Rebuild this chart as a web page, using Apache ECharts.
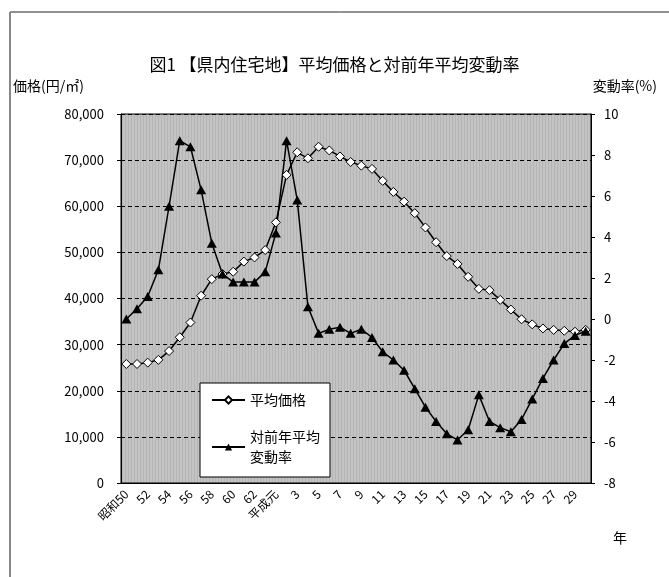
<!DOCTYPE html>
<html>
<head>
<meta charset="utf-8">
<title>県内住宅地 平均価格と対前年平均変動率</title>
<script src="https://cdn.jsdelivr.net/npm/echarts@6/dist/echarts.min.js"></script>
<style>
  html, body { margin: 0; padding: 0; background: #fff; }
  #chart { width: 669px; height: 577px; }
</style>
</head>
<body>
<div id="chart"></div>
<script>
// 年（昭和50年〜平成30年）
const years = [
  "昭和50", "51", "52", "53", "54", "55", "56", "57", "58", "59",
  "60", "61", "62", "63", "平成元", "2", "3", "4", "5", "6",
  "7", "8", "9", "10", "11", "12", "13", "14", "15", "16",
  "17", "18", "19", "20", "21", "22", "23", "24", "25", "26",
  "27", "28", "29", "30"
];

// 平均価格（円/㎡）
const avgPrice = [
  25800, 25800, 26100, 26700, 28600, 31600, 34800, 40600, 44200, 45300,
  45800, 48000, 48900, 50500, 56500, 66800, 71700, 70400, 72900, 72100,
  70800, 69600, 68800, 68100, 65500, 63100, 61000, 58500, 55400, 52200,
  49200, 47500, 44700, 42100, 41800, 39700, 37600, 35500, 34400, 33500,
  33200, 33000, 32800, 33200
];

// 対前年平均変動率（%）
const changeRate = [
  0.0, 0.5, 1.1, 2.4, 5.5, 8.7, 8.4, 6.3, 3.7, 2.2,
  1.8, 1.8, 1.8, 2.3, 4.2, 8.7, 5.8, 0.6, -0.7, -0.5,
  -0.4, -0.7, -0.5, -0.9, -1.6, -2.0, -2.5, -3.4, -4.3, -5.0,
  -5.6, -5.9, -5.4, -3.7, -5.0, -5.3, -5.5, -4.9, -3.9, -2.9,
  -2.0, -1.2, -0.8, -0.6
];

const FONT = "'Noto Sans CJK JP', 'Noto Sans', sans-serif";

// plot background: gray with fine vertical stripes
const stripe = document.createElement("canvas");
stripe.width = 3;
stripe.height = 1;
const sctx = stripe.getContext("2d");
sctx.fillStyle = "#c3c3c3";
sctx.fillRect(0, 0, 3, 1);
sctx.fillStyle = "#b5b5b5";
sctx.fillRect(2, 0, 1, 1);

const chart = echarts.init(document.getElementById("chart"), null, { renderer: "canvas" });

chart.setOption({
  animation: false,
  textStyle: { fontFamily: FONT, color: "#000" },
  title: {
    text: "図1 【県内住宅地】平均価格と対前年平均変動率",
    left: "center",
    top: 51,
    textStyle: { fontFamily: FONT, fontSize: 17, fontWeight: "normal", color: "#000" }
  },
  grid: {
    left: 121,
    right: 78,
    top: 114,
    bottom: 94,
    show: true,
    backgroundColor: { image: stripe, repeat: "repeat" },
    borderColor: "#000",
    borderWidth: 1
  },
  legend: {
    orient: "vertical",
    left: 200,
    top: 383,
    padding: [7, 10, 0, 11],
    itemGap: 7,
    itemWidth: 33,
    itemHeight: 9,
    backgroundColor: "#fff",
    borderColor: "#000",
    borderWidth: 1,
    textStyle: { fontFamily: FONT, fontSize: 14, lineHeight: 20, color: "#000" },
    data: [
      { name: "平均価格" },
      { name: "対前年平均\n変動率", textStyle: { padding: [20, 0, 0, 0] } }
    ]
  },
  xAxis: {
    type: "category",
    data: years,
    boundaryGap: true,
    axisLine: { lineStyle: { color: "#000", width: 1 } },
    axisTick: { interval: 0, inside: true, length: 3, lineStyle: { color: "#000" } },
    axisLabel: {
      interval: 1,
      rotate: 45,
      margin: 9,
      fontSize: 12,
      fontFamily: FONT,
      color: "#000"
    },
    splitLine: { show: false }
  },
  yAxis: [
    {
      type: "value",
      min: 0,
      max: 80000,
      interval: 10000,
      axisLine: { show: true, lineStyle: { color: "#000" } },
      axisTick: { show: true, length: 4, lineStyle: { color: "#000" } },
      axisLabel: {
        margin: 17,
        fontSize: 13,
        fontFamily: FONT,
        color: "#000",
        formatter: (v) => v.toLocaleString("en-US")
      },
      splitLine: { show: true, lineStyle: { color: "#000", type: [4, 3], width: 1 } }
    },
    {
      type: "value",
      min: -8,
      max: 10,
      interval: 2,
      axisLine: { show: true, lineStyle: { color: "#000" } },
      axisTick: { show: true, length: 4, lineStyle: { color: "#000" } },
      axisLabel: { margin: 13, fontSize: 13, fontFamily: FONT, color: "#000" },
      splitLine: { show: false }
    }
  ],
  graphic: [
    // frame lines
    { type: "line", shape: { x1: 10, y1: 12, x2: 669, y2: 12 }, style: { stroke: "#222", lineWidth: 1 } },
    { type: "line", shape: { x1: 10, y1: 12, x2: 10, y2: 577 }, style: { stroke: "#888", lineWidth: 2 } },
    // axis unit labels
    { type: "text", left: 13, top: 79, style: { text: "価格(円/㎡)", font: "14px " + FONT, fill: "#000" } },
    { type: "text", right: 12, top: 79, style: { text: "変動率(%)", font: "14px " + FONT, fill: "#000" } },
    { type: "text", left: 613, top: 531, style: { text: "年", font: "14px " + FONT, fill: "#000" } }
  ],
  series: [
    {
      name: "平均価格",
      type: "line",
      yAxisIndex: 0,
      data: avgPrice,
      symbol: "diamond",
      symbolSize: 9,
      showAllSymbol: true,
      lineStyle: { color: "#000", width: 1.5 },
      itemStyle: { color: "#fff", borderColor: "#000", borderWidth: 1 }
    },
    {
      name: "対前年平均\n変動率",
      type: "line",
      yAxisIndex: 1,
      data: changeRate,
      symbol: "triangle",
      symbolSize: [10, 9],
      showAllSymbol: true,
      lineStyle: { color: "#000", width: 1.5 },
      itemStyle: { color: "#000", borderColor: "#000", borderWidth: 0 }
    }
  ]
});
</script>
</body>
</html>
